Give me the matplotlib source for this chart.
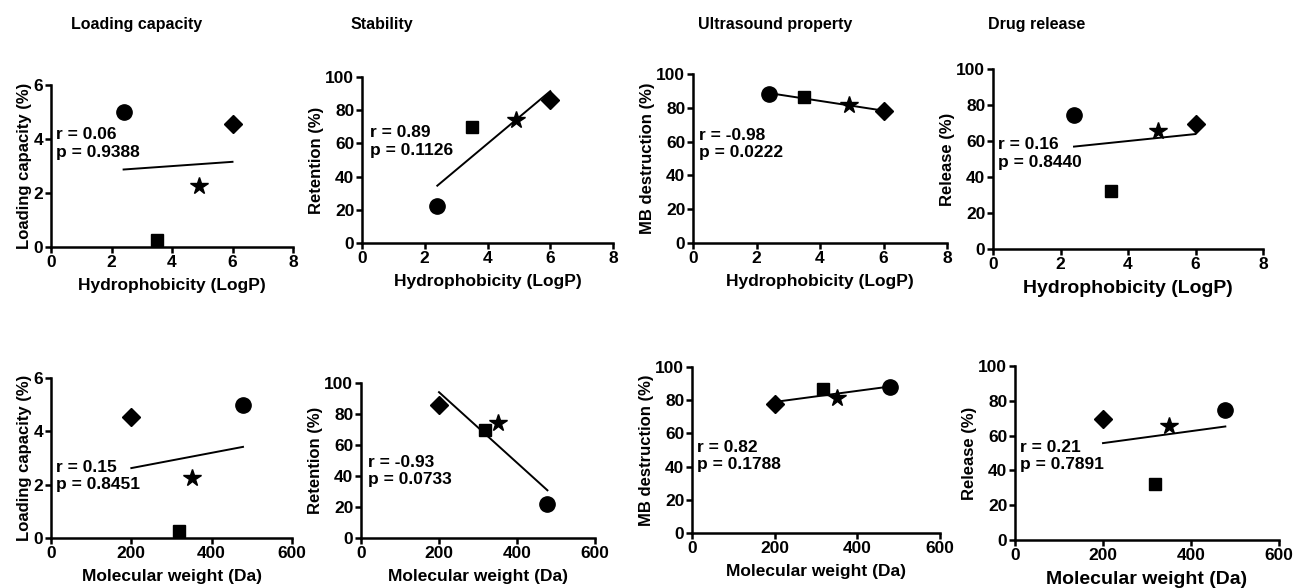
"""
Correlation of drug properties with microbubble performance
"""

import numpy as np
import matplotlib
matplotlib.use('agg')
import matplotlib.pyplot as plt

plt.rcParams['font.family'] = ['Liberation Sans', 'DejaVu Sans']
plt.rcParams['font.weight'] = 'bold'

# ------------- data (order: circle, square, star, diamond) -------------
markers = ['o', 's', '*', 'D']
marker_sizes = [11, 9, 13, 9]

logp = [2.4, 3.5, 4.9, 6.0]
mol_weight = [478, 318, 350, 200]

loading = [5.0, 0.25, 2.25, 4.55]
retention = [22, 70, 74, 86]
mb_destruction = [88, 86.5, 81.5, 78]
release = [74.5, 32, 65.5, 69.5]

col_titles = ['Loading capacity', 'Stability', 'Ultrasound property', 'Drug release']
y_labels = ['Loading capacity (%)', 'Retention (%)', 'MB destruction (%)', 'Release (%)']
x_labels = ['Hydrophobicity (LogP)', 'Molecular weight (Da)']

r_logp = ['0.06', '0.89', '-0.98', '0.16']
p_logp = ['0.9388', '0.1126', '0.0222', '0.8440']
r_mw = ['0.15', '-0.93', '0.82', '0.21']
p_mw = ['0.8451', '0.0733', '0.1788', '0.7891']

# ------------- layout (pixel boxes: x0, x1, ytop, ybottom) -------------
W, H = 1294, 588
boxes = [
    [(51, 293, 85, 247), (362, 613, 77, 243), (693, 947, 74, 243), (993, 1263, 69, 249)],
    [(51, 292, 378, 538), (361, 595, 383, 538), (692, 940, 367, 533), (1015, 1279, 366, 540)],
]
text_pos = [
    [(0.02, 0.74), (0.03, 0.71), (0.025, 0.68), (0.02, 0.62)],
    [(0.02, 0.49), (0.03, 0.535), (0.02, 0.56), (0.02, 0.575)],
]
title_x = [137, 382, 775, 1037]

fig = plt.figure(figsize=(W / 100, H / 100), dpi=100)

y_data = [loading, retention, mb_destruction, release]
y_lims = [(6, 2), (100, 20), (100, 20), (100, 20)]

for row in range(2):
    x = np.array(logp if row == 0 else mol_weight, dtype=float)
    xmax, xstep = (8, 2) if row == 0 else (600, 200)
    r_vals = r_logp if row == 0 else r_mw
    p_vals = p_logp if row == 0 else p_mw
    for col in range(4):
        x0, x1, yt, yb = boxes[row][col]
        ax = fig.add_axes([x0 / W, 1 - yb / H, (x1 - x0) / W, (yb - yt) / H])
        y = np.array(y_data[col], dtype=float)

        # linear fit
        slope, icpt = np.polyfit(x, y, 1)
        xs = np.array([x.min(), x.max()])
        ax.plot(xs, slope * xs + icpt, color='black', lw=1.4, zorder=2)

        for xi, yi, m, ms in zip(x, y, markers, marker_sizes):
            ax.plot(xi, yi, marker=m, ms=ms, color='black', ls='none',
                    clip_on=False, zorder=3)

        ymax, ystep = y_lims[col]
        ax.set_xlim(0, xmax)
        ax.set_ylim(0, ymax)
        ax.set_xticks(np.arange(0, xmax + 1, xstep))
        ax.set_yticks(np.arange(0, ymax + 1, ystep))
        for s in ['top', 'right']:
            ax.spines[s].set_visible(False)
        for s in ['left', 'bottom']:
            ax.spines[s].set_linewidth(1.8)
        ax.tick_params(direction='out', length=4.5, width=1.8, labelsize=12.5, pad=1)
        plt.setp(ax.get_xticklabels() + ax.get_yticklabels(), fontweight='bold')

        xl_size = 14 if col == 3 else 12.5
        ax.set_xlabel(x_labels[row], fontsize=xl_size, fontweight='bold', labelpad=6)
        ax.set_ylabel(y_labels[col], fontsize=12, fontweight='bold', labelpad=1)

        tx, ty = text_pos[row][col]
        ax.text(tx, ty, 'r = %s\np = %s' % (r_vals[col], p_vals[col]),
                transform=ax.transAxes, ha='left', va='top', fontsize=12.5,
                fontweight='bold', linespacing=1.2)

for cx, title in zip(title_x, col_titles):
    fig.text(cx / W, 1 - 25 / H, title, ha='center', va='center',
             fontsize=11.5, fontweight='bold')

plt.savefig('out.png', dpi=100)
